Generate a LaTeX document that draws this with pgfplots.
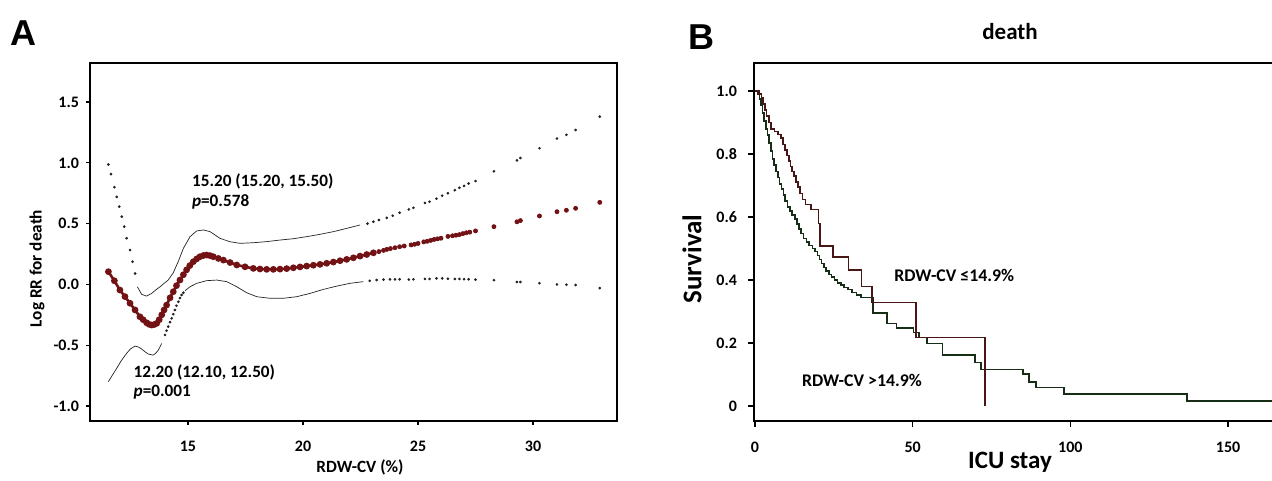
\documentclass[border=0pt]{standalone}
\usepackage{pgfplots}
\pgfplotsset{compat=1.18}
\usepackage{fontspec}
\setmainfont{Carlito}
\newfontfamily\panelfont{Liberation Sans}

\definecolor{estred}{RGB}{115,18,20}
\definecolor{cigray}{RGB}{35,35,35}
\definecolor{lecol}{RGB}{72,22,20}
\definecolor{gtcol}{RGB}{22,45,22}

\newcommand{\fs}[1]{\fontsize{#1}{#1}\selectfont\bfseries}

\begin{document}
\begin{tikzpicture}[x=0.5pt,y=0.5pt,lab/.style={inner sep=0pt}]
\useasboundingbox (0,0) rectangle (1272,481);

% ---------- panel A: restricted cubic spline ----------
\begin{axis}[at={(45pt,30pt)}, anchor=south west, scale only axis,
  width=263.5pt, height=179pt,
  xmin=10.74, xmax=33.65, ymin=-1.123, ymax=1.821,
  xtick={15,20,25,30}, xticklabels={15,20,25,30},
  ytick={-1,-0.5,0,0.5,1,1.5}, yticklabels={-1.0,-0.5,0.0,0.5,1.0,1.5},
  tick align=outside, xtick pos=bottom, ytick pos=left,
  major tick length=2pt, tick style={black, line width=0.6pt},
  axis line style={line width=0.7pt},
  ticklabel style={font=\fs{8}},
  xticklabel style={yshift=-4.5pt},
  yticklabel style={xshift=0pt},
  ]
  % upper CI
  \addplot[cigray, line width=0.35pt] coordinates {
    (12.80,-0.020) (12.99,-0.082) (13.20,-0.096) (13.42,-0.074) (13.60,-0.045)
    (13.78,-0.020) (14.00,0.015) (14.14,0.036) (14.36,0.096) (14.58,0.190)
    (14.80,0.297) (15.09,0.393) (15.38,0.440) (15.67,0.448) (15.96,0.434)
    (16.39,0.379) (16.83,0.351) (17.26,0.338) (17.84,0.343) (18.42,0.352)
    (19.00,0.365) (19.58,0.376) (20.16,0.393) (20.74,0.412) (21.32,0.434)
    (21.90,0.461) (22.48,0.489)};
  \addplot[cigray, only marks, mark=*, mark size=0.45pt] coordinates {
    (11.54,0.986) (11.65,0.907) (11.80,0.800) (11.90,0.720) (12.01,0.640)
    (12.12,0.557) (12.23,0.475) (12.33,0.380) (12.48,0.283) (12.59,0.187)
    (12.70,0.090)
    (22.80,0.500) (23.06,0.516) (23.30,0.530) (23.64,0.548) (23.90,0.565)
    (24.20,0.590) (24.60,0.617) (24.80,0.630) (25.30,0.670) (25.50,0.680)
    (25.80,0.705) (26.05,0.730) (26.30,0.750) (26.60,0.775) (26.80,0.795)
    (27.00,0.810) (27.20,0.830) (27.50,0.850) (28.30,0.930) (29.30,1.020)
    (29.45,1.040) (30.28,1.120) (31.04,1.200) (31.45,1.230) (31.85,1.270)
    (32.90,1.380)};
  % lower CI
  \addplot[cigray, line width=0.35pt] coordinates {
    (11.54,-0.800) (11.70,-0.750) (11.90,-0.690) (12.10,-0.627) (12.33,-0.567)
    (12.50,-0.530) (12.70,-0.507) (12.85,-0.515) (12.99,-0.532) (13.14,-0.555)
    (13.28,-0.573) (13.49,-0.581) (13.60,-0.565) (13.71,-0.540) (13.86,-0.485)};
  \addplot[cigray, line width=0.35pt] coordinates {
    (14.87,-0.052) (15.09,-0.019) (15.38,0.009) (15.81,0.031) (16.25,0.036)
    (16.68,0.023) (17.12,-0.019) (17.55,-0.068) (17.99,-0.101) (18.57,-0.114)
    (19.14,-0.114) (19.72,-0.101) (20.30,-0.074) (20.88,-0.041) (21.46,-0.014)
    (22.04,0.009) (22.62,0.023)};
  \addplot[cigray, only marks, mark=*, mark size=0.45pt] coordinates {
    (14.00,-0.416) (14.07,-0.380) (14.14,-0.347) (14.22,-0.310) (14.29,-0.279)
    (14.36,-0.245) (14.43,-0.210) (14.50,-0.175) (14.58,-0.142) (14.65,-0.112)
    (14.72,-0.087) (14.80,-0.068)
    (22.90,0.030) (23.20,0.036) (23.50,0.040) (23.78,0.042) (24.00,0.042)
    (24.20,0.042) (24.60,0.040) (24.80,0.042) (25.30,0.045) (25.50,0.045)
    (25.80,0.050) (26.05,0.050) (26.30,0.047) (26.60,0.045) (26.80,0.045)
    (27.00,0.043) (27.20,0.042) (27.50,0.040) (28.30,0.035) (29.30,0.020)
    (29.45,0.020) (30.28,0.010) (31.04,0.000) (31.45,-0.002) (31.85,-0.005)
    (32.90,-0.030)};
  % estimate
  \addplot[estred, line width=1.3pt, mark=*, mark size=1pt] coordinates {
    (11.54,0.105) (11.80,0.030) (12.04,-0.046) (12.26,-0.100) (12.48,-0.155)
    (12.70,-0.210) (12.91,-0.266) (13.05,-0.290) (13.20,-0.315) (13.31,-0.328)
    (13.42,-0.334) (13.53,-0.330) (13.64,-0.320) (13.75,-0.290) (13.86,-0.250)
    (13.96,-0.210) (14.07,-0.170) (14.22,-0.110) (14.36,-0.060) (14.50,-0.010)
    (14.65,0.036) (14.80,0.080) (14.94,0.120) (15.08,0.155) (15.23,0.187)
    (15.38,0.210) (15.52,0.228) (15.67,0.238) (15.81,0.242) (15.96,0.237)
    (16.10,0.228) (16.32,0.214) (16.54,0.200) (16.83,0.180) (17.12,0.160)
    (17.48,0.145) (17.84,0.132) (18.13,0.127) (18.42,0.124) (18.71,0.124)
    (19.00,0.126) (19.29,0.130) (19.58,0.137) (19.87,0.144) (20.16,0.151)
    (20.45,0.158) (20.74,0.165) (21.03,0.174) (21.32,0.184) (21.61,0.195)
    (21.90,0.206) (22.19,0.219) (22.48,0.233) (22.77,0.246) (23.06,0.260)};
  \addplot[estred, only marks, mark=*, mark size=1pt] coordinates {
    (23.30,0.270) (23.50,0.280) (23.64,0.288) (23.80,0.295) (24.00,0.302)
    (24.20,0.310) (24.40,0.316) (24.70,0.325) (24.85,0.330) (25.00,0.337)
    (25.25,0.350) (25.40,0.355) (25.55,0.362) (25.70,0.370) (25.85,0.375)
    (26.00,0.380) (26.30,0.395) (26.50,0.400) (26.65,0.405) (26.80,0.410)
    (26.95,0.418) (27.10,0.425) (27.25,0.430) (27.50,0.440) (28.30,0.475)
    (29.30,0.515) (29.45,0.525) (30.28,0.563) (31.04,0.598) (31.45,0.610)
    (31.85,0.626) (32.90,0.675)};
\end{axis}

% ---------- panel B: Kaplan-Meier ----------
\begin{axis}[at={(377pt,30pt)}, anchor=south west, scale only axis,
  width=264pt, height=179pt,
  xmin=-0.317, xmax=167.1, ymin=-0.0476, ymax=1.089,
  xtick={0,50,100,150}, xticklabels={0,50,100,150},
  ytick={0,0.2,0.4,0.6,0.8,1}, yticklabels={0,0.2,0.4,0.6,0.8,1.0},
  tick align=outside, xtick pos=bottom, ytick pos=left,
  major tick length=3pt, tick style={black, line width=0.6pt},
  axis line style={line width=0.7pt},
  ticklabel style={font=\fs{8}},
  xticklabel style={yshift=-4pt},
  yticklabel style={xshift=-2pt},
  ]
  % RDW-CV > 14.9%
  \addplot[gtcol, line width=0.8pt, const plot] coordinates {
    (0,1.000) (0.8,0.990) (1.4,0.975) (1.9,0.955) (2.4,0.930) (2.9,0.905)
    (3.4,0.880) (4.0,0.860) (4.5,0.835) (5.0,0.810) (5.5,0.785) (6.0,0.765)
    (6.6,0.745) (7.2,0.725) (7.8,0.705) (8.4,0.688) (9.0,0.670) (9.6,0.650)
    (10.3,0.632) (11.0,0.620) (11.8,0.607) (12.6,0.593) (13.3,0.578)
    (13.9,0.562) (14.6,0.548) (15.4,0.532) (16.3,0.520) (17.2,0.510)
    (18.2,0.500) (19.1,0.490) (19.8,0.478) (20.4,0.465) (21.1,0.452)
    (21.8,0.440) (22.6,0.428) (23.4,0.418) (24.3,0.410) (25.2,0.400)
    (26.2,0.390) (27.2,0.384) (28.3,0.376) (29.5,0.370) (30.8,0.360)
    (32.2,0.352) (33.6,0.345) (37.4,0.295) (41.8,0.262) (44.9,0.247)
    (50.2,0.233) (52.0,0.218) (54.5,0.198) (59.5,0.162) (69.8,0.138)
    (71.7,0.116) (84.9,0.101) (86.9,0.077) (89.0,0.059) (98.0,0.038)
    (136.9,0.016) (175,0.016)};
  % RDW-CV <= 14.9%
  \addplot[lecol, line width=0.8pt, const plot] coordinates {
    (0,1.000) (1.2,0.990) (2.0,0.977) (2.6,0.958) (3.1,0.940) (3.7,0.920)
    (4.4,0.900) (5.1,0.880) (6.2,0.872) (7.3,0.862) (8.3,0.850) (8.9,0.830)
    (9.5,0.812) (10.1,0.795) (10.7,0.778) (11.2,0.760) (11.8,0.745)
    (12.4,0.730) (13.0,0.712) (13.6,0.695) (14.3,0.675) (15.1,0.655)
    (16.0,0.640) (17.7,0.624) (20.1,0.580) (20.7,0.508) (24.7,0.474)
    (29.6,0.432) (33.8,0.380) (37.0,0.328) (51.0,0.218) (72.9,0.000)};
\end{axis}

% ---------- texts ----------
\node[lab, anchor=base west, font=\panelfont\bfseries\fontsize{18}{18}\selectfont] at (10,435) {A};
\node[lab, anchor=base west, font=\panelfont\bfseries\fontsize{18}{18}\selectfont] at (688,431) {B};
\node[lab, rotate=90, font=\fs{8.6}] at (37,212.5) {Log RR for death};
\node[lab, anchor=base, font=\fs{8.6}] at (360,9) {RDW-CV (\%)};
\node[lab, anchor=base west, font=\fs{8.6}] at (191.7,294) {15.20 (15.20, 15.50)};
\node[lab, anchor=base west, font=\fs{8.6}] at (191.7,274) {\textit{p}=0.578};
\node[lab, anchor=base west, font=\fs{8.6}] at (133.3,103) {12.20 (12.10, 12.50)};
\node[lab, anchor=base west, font=\fs{8.6}] at (133.3,84) {\textit{p}=0.001};
\node[lab, anchor=base, font=\fs{11.5}] at (1010,441) {death};
\node[lab, rotate=90, font=\fs{13.5}] at (692,222) {Survival};
\node[lab, anchor=base, font=\fs{12.5}] at (1010,12) {ICU stay};
\node[lab, anchor=base west, font=\fs{8.9}] at (894,199) {RDW-CV ≤14.9\%};
\node[lab, anchor=base west, font=\fs{8.9}] at (801.7,94) {RDW-CV >14.9\%};
\end{tikzpicture}
\end{document}
